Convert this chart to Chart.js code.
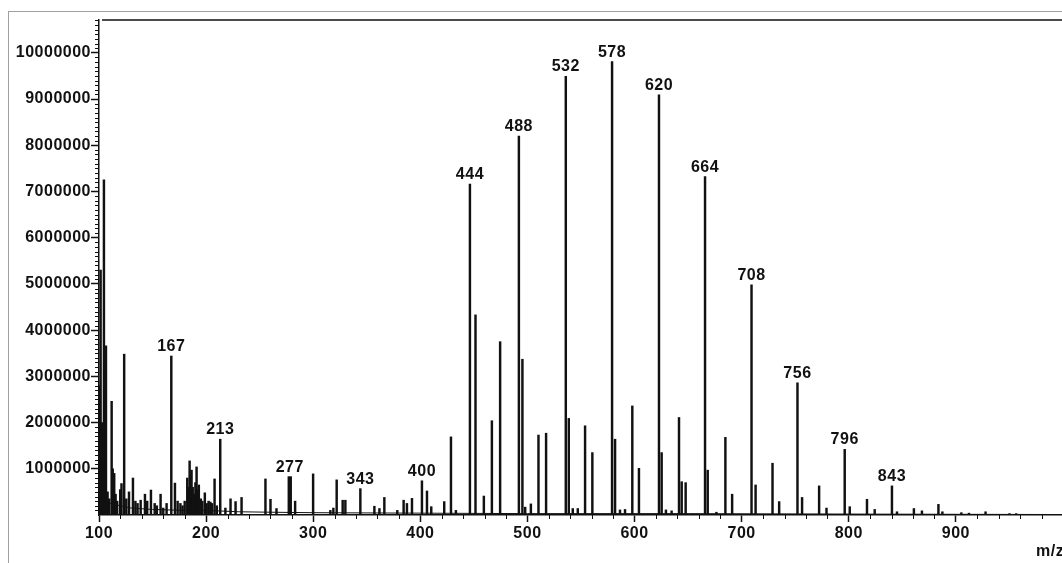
<!DOCTYPE html>
<html>
<head>
<meta charset="utf-8">
<script src="https://cdn.jsdelivr.net/npm/chart.js@4/dist/chart.umd.min.js"></script>
<style>
  html, body { margin: 0; padding: 0; background: #fff; overflow: hidden; width: 1062px; height: 563px; }
  #frame { position: absolute; left: 8px; top: 11px; width: 1100px; height: 600px;
           border-top: 1px solid #a0a0a0; border-left: 1px solid #a0a0a0; }
  #myChart { position: absolute; left: 0; top: 0; }
</style>
</head>
<body>
<div id="frame"></div>
<canvas id="myChart" width="1100" height="563"></canvas>
<script>
// peaks: m/z and intensity (millions of counts)
var peakMz = [100.5, 101.5, 102.8, 104.6, 105.5, 106.5, 108.0, 109.5, 111.8, 112.8,
  114.2, 115.5, 117.0, 119.8, 121.0, 123.5, 125.5, 128.0, 131.7, 134.0,
  136.0, 138.9, 142.9, 145.0, 148.5, 152.0, 154.0, 157.5, 160.0, 163.1,
  167.5, 170.9, 173.4, 176.0, 178.0, 180.0, 182.4, 183.5, 184.6, 185.5,
  186.4, 187.5, 189.0, 190.0, 191.1, 192.0, 193.2, 195.0, 196.5, 198.8,
  200.5, 202.3, 204.0, 205.5, 207.9, 210.0, 213.2, 218.0, 222.8, 227.5,
  233.1, 255.4, 260.1, 265.7, 277.2, 279.0, 283.1, 299.9, 316.0, 318.8,
  321.9, 327.5, 330.0, 344.0, 357.1, 361.8, 366.4, 378.5, 384.4, 387.5,
  392.2, 401.5, 406.2, 410.2, 422.3, 428.6, 433.2, 446.3, 451.5, 459.3,
  466.8, 474.5, 492.0, 495.3, 497.9, 503.2, 510.3, 517.4, 535.8, 538.6,
  542.3, 547.0, 553.8, 560.6, 579.0, 581.8, 586.4, 591.1, 597.9, 604.1,
  622.8, 625.3, 629.3, 634.6, 641.5, 644.0, 647.7, 665.8, 668.3, 676.4,
  684.8, 691.1, 709.2, 713.0, 728.8, 735.0, 752.1, 756.4, 772.3, 779.2,
  796.2, 800.9, 817.0, 824.2, 840.3, 845.0, 860.8, 868.3, 883.7, 887.4,
  905.1, 912.2, 927.7, 950.0, 956.3];
var peakInt = [2.8, 5.3, 2.0, 7.25, 1.2, 3.66, 0.5, 0.35, 2.46, 1.0,
  0.9, 0.45, 0.3, 0.55, 0.68, 3.48, 0.35, 0.5, 0.8, 0.3,
  0.25, 0.32, 0.45, 0.3, 0.54, 0.25, 0.2, 0.45, 0.15, 0.25,
  3.44, 0.69, 0.3, 0.25, 0.2, 0.3, 0.8, 0.6, 1.17, 0.85,
  0.97, 0.6, 0.45, 0.7, 1.04, 0.55, 0.65, 0.35, 0.3, 0.48,
  0.25, 0.3, 0.28, 0.25, 0.78, 0.2, 1.64, 0.15, 0.35, 0.29,
  0.38, 0.78, 0.34, 0.14, 0.83, 0.83, 0.3, 0.89, 0.1, 0.15,
  0.76, 0.32, 0.32, 0.57, 0.19, 0.14, 0.38, 0.1, 0.32, 0.25,
  0.36, 0.74, 0.52, 0.18, 0.29, 1.69, 0.1, 7.16, 4.33, 0.41,
  2.04, 3.75, 8.2, 3.37, 0.17, 0.24, 1.73, 1.77, 9.49, 2.09,
  0.14, 0.14, 1.93, 1.35, 9.81, 1.64, 0.11, 0.12, 2.36, 1.01,
  9.09, 1.35, 0.11, 0.09, 2.11, 0.72, 0.7, 7.32, 0.97, 0.06,
  1.68, 0.45, 4.98, 0.65, 1.12, 0.29, 2.86, 0.38, 0.63, 0.15,
  1.42, 0.18, 0.34, 0.12, 0.63, 0.07, 0.14, 0.09, 0.23, 0.07,
  0.05, 0.04, 0.07, 0.03, 0.03];

// baseline level of the trace (millions)
var baseMz = [100, 110, 130, 150, 180, 200, 230, 260, 300, 400, 500, 650, 800, 1000];
var baseInt = [0.3, 0.25, 0.15, 0.12, 0.1, 0.1, 0.07, 0.06, 0.05, 0.04, 0.03, 0.03, 0.02, 0.01];

// annotated peaks
var labelMz = [167.5, 213.2, 278.1, 344.0, 401.5, 446.3, 492.0, 535.8, 579.0, 622.8, 665.8, 709.2, 752.1, 796.2, 840.3];
var labelText = ["167", "213", "277", "343", "400", "444", "488", "532", "578", "620", "664", "708", "756", "796", "843"];

var xTicks = [100, 200, 300, 400, 500, 600, 700, 800, 900, 1000];
var xTickLabels = ["100", "200", "300", "400", "500", "600", "700", "800", "900", ""];
var yTicks = [1000000, 2000000, 3000000, 4000000, 5000000, 6000000, 7000000, 8000000, 9000000, 10000000];
var yTickLabels = ["1000000", "2000000", "3000000", "4000000", "5000000", "6000000", "7000000", "8000000", "9000000", "10000000"];

var FONT = "'Liberation Sans', Arial, sans-serif";
var INK = "#111";

var peaks = peakMz.map(function (m, i) { return { x: m, y: peakInt[i] * 1e6 }; });
var baseline = baseMz.map(function (m, i) { return { x: m, y: baseInt[i] * 1e6 }; });

var extras = {
  id: "extras",
  beforeDraw: function (chart) {
    chart.ctx.letterSpacing = "0.5px";
  },
  afterDraw: function (chart) {
    var ctx = chart.ctx, a = chart.chartArea;
    var xs = chart.scales.x, ys = chart.scales.y;
    ctx.save();
    ctx.strokeStyle = INK;
    ctx.lineWidth = 1;
    // minor ticks
    ctx.beginPath();
    for (var v = 100000; v <= ys.max; v += 100000) {
      if (v % 1000000 === 0) continue;
      var py = Math.round(ys.getPixelForValue(v)) + 0.5;
      ctx.moveTo(a.left - 4, py);
      ctx.lineTo(a.left, py);
    }
    for (var m = 120; m <= xs.max; m += 20) {
      if (m % 100 === 0) continue;
      var px = Math.round(xs.getPixelForValue(m)) + 0.5;
      ctx.moveTo(px, a.bottom);
      ctx.lineTo(px, a.bottom + 4);
    }
    ctx.stroke();
    // top frame line
    ctx.lineWidth = 1.5;
    ctx.beginPath();
    ctx.moveTo(a.left + 3, a.top);
    ctx.lineTo(a.right + 10, a.top);
    ctx.stroke();
    // peak labels
    ctx.fillStyle = INK;
    ctx.font = "bold 16px " + FONT;
    ctx.textAlign = "center";
    ctx.textBaseline = "alphabetic";
    labelMz.forEach(function (lm, i) {
      var top = 0;
      peakMz.forEach(function (pm, j) {
        if (Math.abs(pm - lm) < 1.5 && peakInt[j] > top) top = peakInt[j];
      });
      var lx = xs.getPixelForValue(lm);
      var ly = ys.getPixelForValue(top * 1e6) - 5;
      ctx.fillText(labelText[i], lx, ly);
    });
    // axis title
    ctx.textAlign = "left";
    ctx.fillText("m/z", a.right - 27, a.bottom + 41);
    ctx.restore();
  }
};

new Chart("myChart", {
  type: "bar",
  data: {
    datasets: [
      {
        type: "bar",
        data: peaks,
        backgroundColor: INK,
        borderWidth: 0,
        barThickness: 1.8,
        order: 1
      },
      {
        type: "line",
        data: baseline,
        borderColor: INK,
        borderWidth: 1,
        pointRadius: 0,
        tension: 0,
        order: 2
      }
    ]
  },
  options: {
    responsive: false,
    animation: false,
    devicePixelRatio: 1,
    layout: { padding: { top: 20, right: 37, left: 0, bottom: 0 } },
    plugins: { legend: { display: false }, tooltip: { enabled: false } },
    scales: {
      x: {
        type: "linear",
        min: 100,
        max: 1000,
        offset: false,
        afterBuildTicks: function (s) { s.ticks = xTicks.map(function (v) { return { value: v }; }); },
        afterFit: function (s) { s.height = 48; },
        grid: { display: true, drawOnChartArea: false, offset: false, tickLength: 7, tickColor: INK, tickWidth: 1.5 },
        border: { display: true, color: INK, width: 1.5 },
        ticks: {
          autoSkip: false,
          maxRotation: 0,
          padding: 2,
          color: INK,
          font: { family: FONT, size: 16, weight: "bold" },
          callback: function (v, i) { return xTickLabels[i]; }
        }
      },
      y: {
        min: 0,
        max: 10710000,
        afterBuildTicks: function (s) { s.ticks = yTicks.map(function (v) { return { value: v }; }); },
        afterFit: function (s) { s.width = 99; },
        grid: { display: true, drawOnChartArea: false, tickLength: 8, tickColor: INK, tickWidth: 1.5 },
        border: { display: true, color: INK, width: 1.5 },
        ticks: {
          autoSkip: false,
          padding: 0,
          color: INK,
          font: { family: FONT, size: 16, weight: "bold" },
          callback: function (v, i) { return yTickLabels[i]; }
        }
      }
    }
  },
  plugins: [extras]
});
</script>
</body>
</html>
